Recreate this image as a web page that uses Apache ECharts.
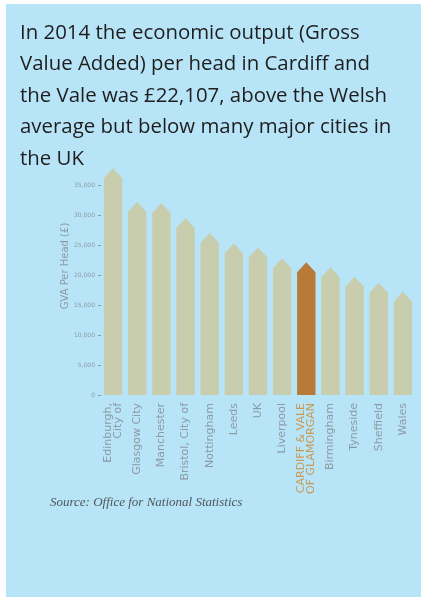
<!DOCTYPE html>
<html>
<head>
<meta charset="utf-8">
<script src="https://cdn.jsdelivr.net/npm/echarts@6/dist/echarts.min.js"></script>
<style>
  html, body { margin: 0; padding: 0; background: #ffffff; }
  #panel { position: absolute; left: 6px; top: 4px; width: 415px; height: 593px; background: #b7e4f7; }
  #chart, #headline { position: absolute; left: 0; top: 0; width: 422px; height: 598px; }
  /* the bar graphic is a soft, scanned-in figure */
  #chart { filter: blur(0.5px); }
</style>
</head>
<body>
<div id="panel"></div>
<div id="chart"></div>
<div id="headline"></div>
<script>
// GVA per head, 2014 (£)
const areas = [
  'Edinburgh,\nCity of', 'Glasgow City', 'Manchester', 'Bristol, City of',
  'Nottingham', 'Leeds', 'UK', 'Liverpool', 'CARDIFF & VALE\nOF GLAMORGAN',
  'Birmingham', 'Tyneside', 'Sheffield', 'Wales'
];
const gvaPerHead = [37800, 32200, 32000, 29500, 27000, 25300, 24600, 22800, 22107, 21300, 19700, 18700, 17200];
const highlightArea = 'CARDIFF & VALE\nOF GLAMORGAN';
const yTicks = [0, 5000, 10000, 15000, 20000, 25000, 30000, 35000];

const headline = 'In 2014 the economic output (Gross\nValue Added) per head in Cardiff and\nthe Vale was £22,107, above the Welsh\naverage but below many major cities in\nthe UK';

const barColor = '#c8cdae';
const hiColor = '#b97a37';
const labelGrey = '#8d9ba5';

// Headline text, kept sharp in its own layer
const head = echarts.init(document.getElementById('headline'));
head.setOption({
  animation: false,
  title: {
    text: headline,
    left: 20,
    top: 17,
    padding: 0,
    textStyle: {
      fontFamily: 'Open Sans',
      fontSize: 20.4,
      fontWeight: 'normal',
      color: '#1e1e1e',
      lineHeight: 31.5
    }
  }
});

const chart = echarts.init(document.getElementById('chart'));
chart.setOption({
  backgroundColor: 'transparent',
  animation: false,
  grid: { left: 101, right: 7, top: 185, bottom: 203, containLabel: false },
  xAxis: {
    type: 'category',
    data: areas.map(a => a === highlightArea
      ? { value: a, textStyle: { color: '#c99a55' } }
      : a),
    axisLine: { show: false },
    axisTick: { show: false },
    axisLabel: {
      rotate: 90,
      interval: 0,
      margin: 8,
      fontSize: 11,
      lineHeight: 10,
      fontFamily: 'DejaVu Sans',
      color: labelGrey
    }
  },
  yAxis: {
    type: 'value',
    min: yTicks[0],
    max: yTicks[yTicks.length - 1],
    interval: 5000,
    name: 'GVA Per Head (£)',
    nameLocation: 'middle',
    nameRotate: 90,
    nameGap: 31,
    nameMoveOverlap: false,
    nameTextStyle: {
      fontSize: 10, color: labelGrey, fontFamily: 'DejaVu Sans',
      padding: [0, 0, 0, 48]
    },
    splitLine: { show: false },
    axisLine: { show: false },
    axisTick: { show: true, length: 3, inside: false, lineStyle: { color: labelGrey } },
    axisLabel: {
      fontSize: 6,
      margin: 6,
      color: labelGrey,
      fontFamily: 'DejaVu Sans',
      formatter: v => v.toLocaleString('en-GB')
    }
  },
  graphic: [{
    type: 'text',
    left: 50,
    top: 496,
    style: {
      text: 'Source: Office for National Statistics',
      font: 'italic 13px "Liberation Serif"',
      fill: '#51575c'
    }
  }],
  series: [{
    type: 'custom',
    data: gvaPerHead.map((v, i) => [i, v]),
    encode: { x: 0, y: 1 },
    renderItem: (params, api) => {
      const i = api.value(0);
      const top = api.coord([i, api.value(1)]);
      const base = api.coord([i, 0]);
      const w = api.size([1, 0])[0] * 0.76;
      const peak = 10;
      const x0 = top[0] - w / 2, x1 = top[0] + w / 2;
      return {
        type: 'polygon',
        shape: {
          points: [
            [x0, base[1]], [x0, top[1] + peak], [top[0], top[1]],
            [x1, top[1] + peak], [x1, base[1]]
          ]
        },
        style: { fill: areas[i] === highlightArea ? hiColor : barColor }
      };
    }
  }]
});
</script>
</body>
</html>
